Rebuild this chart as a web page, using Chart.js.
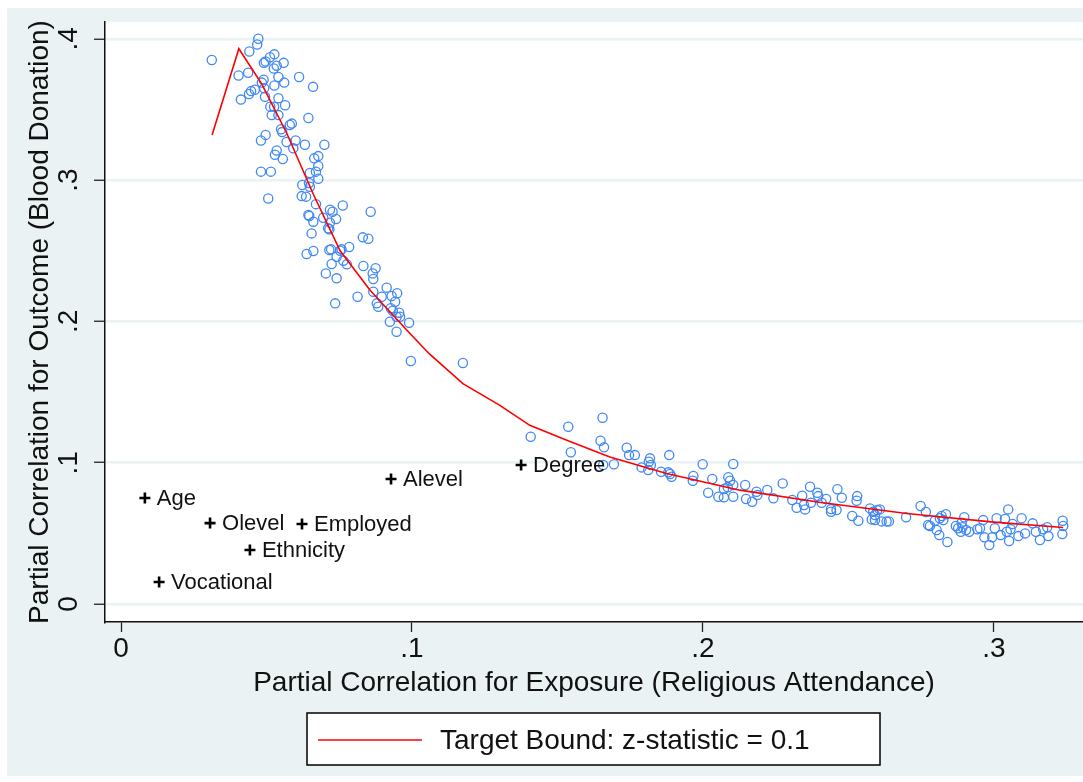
<!DOCTYPE html>
<html>
<head>
<meta charset="utf-8">
<script src="https://cdn.jsdelivr.net/npm/chart.js@4.4.0/dist/chart.umd.min.js"></script>
<style>
  html, body { margin: 0; padding: 0; background: #fff; }
  canvas { display: block; }
</style>
</head>
<body>
<canvas id="chart" width="1083" height="782"></canvas>
<script>
'use strict';
// tick values and their Stata-style labels
const xTicks = [0, 0.1, 0.2, 0.3];
const xTickLabels = ['0', '.1', '.2', '.3'];
const yTicks = [0, 0.1, 0.2, 0.3, 0.4];
const yTickLabels = ['0', '.1', '.2', '.3', '.4'];

// labelled covariates (black crosses)
const covariateNames = ['Age', 'Olevel', 'Employed', 'Ethnicity', 'Vocational', 'Alevel', 'Degree'];
const covariateX = [0.0082, 0.0306, 0.0622, 0.0443, 0.0131, 0.0928, 0.1375];
const covariateY = [0.0750, 0.0573, 0.0566, 0.0382, 0.0156, 0.0885, 0.0984];

// target bound line
const boundX = [0.0313, 0.0405, 0.0484, 0.0570, 0.0661, 0.0753, 0.0856, 0.0993, 0.1060, 0.1175, 0.1302, 0.1405, 0.1532, 0.1680, 0.1875, 0.2127, 0.2400, 0.2700, 0.3000, 0.3238];
const boundY = [0.332, 0.393, 0.368, 0.333, 0.290, 0.250, 0.222, 0.1915, 0.177, 0.156, 0.1406, 0.1265, 0.116, 0.104, 0.0924, 0.0806, 0.072, 0.0641, 0.058, 0.0542];

// simulated points [exposure, outcome]
const steepPoints = [
  [0.0312, 0.385], [0.0472, 0.400], [0.0468, 0.396], [0.0441, 0.391], [0.0512, 0.387], [0.0527, 0.389],
  [0.0491, 0.383], [0.0497, 0.384], [0.0535, 0.381], [0.0559, 0.383], [0.0525, 0.379], [0.0404, 0.374],
  [0.0437, 0.376], [0.0490, 0.371], [0.0484, 0.369], [0.0541, 0.373], [0.0561, 0.369], [0.0612, 0.373],
  [0.0660, 0.366], [0.0527, 0.367], [0.0492, 0.365], [0.0460, 0.364], [0.0447, 0.363], [0.0440, 0.361],
  [0.0412, 0.357], [0.0495, 0.359], [0.0541, 0.358], [0.0513, 0.352], [0.0526, 0.352], [0.0564, 0.353],
  [0.0518, 0.346], [0.0541, 0.346], [0.0644, 0.344], [0.0587, 0.340], [0.0580, 0.339], [0.0550, 0.336],
  [0.0554, 0.334], [0.0497, 0.332], [0.0481, 0.328], [0.0569, 0.327], [0.0600, 0.328], [0.0632, 0.325],
  [0.0699, 0.325], [0.0592, 0.3225]
];
const middlePoints = [
  [0.0529, 0.318], [0.0535, 0.321], [0.0556, 0.315], [0.0481, 0.306], [0.0515, 0.306], [0.0664, 0.3154],
  [0.0678, 0.317], [0.0678, 0.310], [0.0670, 0.306], [0.0649, 0.305], [0.0678, 0.301], [0.0623, 0.2965],
  [0.0646, 0.298], [0.0649, 0.2953], [0.0506, 0.287], [0.0621, 0.2887], [0.0636, 0.2883], [0.0670, 0.283],
  [0.0718, 0.279], [0.0727, 0.2776], [0.0762, 0.282], [0.0858, 0.2776], [0.0644, 0.2753], [0.0647, 0.2746],
  [0.0695, 0.2734], [0.0661, 0.2706], [0.0739, 0.2725], [0.0718, 0.2699], [0.0712, 0.2659], [0.0716, 0.2652],
  [0.0655, 0.2623], [0.0831, 0.2595], [0.0850, 0.2585], [0.0638, 0.2477], [0.0661, 0.2498], [0.0716, 0.2505],
  [0.0722, 0.2510], [0.0753, 0.2500], [0.0758, 0.2510], [0.0784, 0.2527], [0.0741, 0.2458], [0.0764, 0.2430],
  [0.0776, 0.2404], [0.0724, 0.2406], [0.0704, 0.2340], [0.0741, 0.2305], [0.0833, 0.2392], [0.0875, 0.2376],
  [0.0865, 0.2340], [0.0867, 0.2300], [0.0913, 0.2239], [0.0867, 0.2210], [0.0896, 0.2175], [0.0949, 0.2199],
  [0.0930, 0.2180], [0.0942, 0.2139], [0.0813, 0.2175], [0.0736, 0.2128], [0.0879, 0.2128], [0.0884, 0.2104],
  [0.0927, 0.2093], [0.0934, 0.2076], [0.0956, 0.2062], [0.0959, 0.2033], [0.0947, 0.2033], [0.0924, 0.1998],
  [0.0990, 0.1991], [0.0947, 0.1927], [0.0996, 0.1720], [0.1175, 0.1706]
];
const flatPoints = [
  [0.1408, 0.1184], [0.1537, 0.1255], [0.1655, 0.1318], [0.1546, 0.1074], [0.1648, 0.1156], [0.1660, 0.1109],
  [0.1694, 0.0989], [0.1657, 0.0984], [0.1738, 0.1106], [0.1746, 0.1054], [0.1766, 0.1054], [0.1818, 0.1031],
  [0.1814, 0.1007], [0.1821, 0.0984], [0.1812, 0.0948], [0.1789, 0.0967], [0.1884, 0.1054], [0.1856, 0.0936],
  [0.1881, 0.0932], [0.1892, 0.0901], [0.1887, 0.0920], [0.1999, 0.0989], [0.2104, 0.0991], [0.1967, 0.0906],
  [0.1965, 0.0873], [0.2032, 0.0885], [0.2018, 0.0788], [0.2087, 0.0897], [0.2093, 0.0873], [0.2104, 0.0842],
  [0.2085, 0.0826], [0.2072, 0.0814], [0.2145, 0.0842], [0.2053, 0.0759], [0.2072, 0.0755], [0.2104, 0.0759],
  [0.2148, 0.0743]
];
const tailPoints = [
  [0.2169, 0.0724], [0.2184, 0.0795], [0.2187, 0.0771], [0.2221, 0.0807], [0.2242, 0.0748], [0.2274, 0.0854],
  [0.2307, 0.0736], [0.2322, 0.0682], [0.2351, 0.0670], [0.2341, 0.0766], [0.2347, 0.0701], [0.2368, 0.0830],
  [0.2371, 0.0717], [0.2393, 0.0788], [0.2396, 0.0764], [0.2408, 0.0717], [0.2423, 0.0743], [0.2440, 0.0672],
  [0.2440, 0.0653], [0.2459, 0.0665], [0.2462, 0.0812], [0.2477, 0.0752], [0.2513, 0.0623], [0.2534, 0.0590],
  [0.2528, 0.0731], [0.2530, 0.0764], [0.2574, 0.0677], [0.2585, 0.0653], [0.2580, 0.0599], [0.2591, 0.0594],
  [0.2599, 0.0665], [0.2608, 0.0670], [0.2614, 0.0585], [0.2631, 0.0585], [0.2639, 0.0585], [0.2591, 0.0630],
  [0.2698, 0.0614], [0.2748, 0.0694], [0.2766, 0.0651], [0.2774, 0.0559], [0.2780, 0.0552], [0.2803, 0.0524],
  [0.2812, 0.0488], [0.2840, 0.0439], [0.2797, 0.0590], [0.2814, 0.0607], [0.2820, 0.0623], [0.2835, 0.0635],
  [0.2826, 0.0594], [0.2869, 0.0552], [0.2877, 0.0536], [0.2886, 0.0512], [0.2892, 0.0543], [0.2898, 0.0614],
  [0.2904, 0.0524], [0.2915, 0.0512], [0.2889, 0.0575], [0.2943, 0.0529], [0.2952, 0.0536], [0.2967, 0.0472],
  [0.2963, 0.0594], [0.2984, 0.0418], [0.2994, 0.0472], [0.3003, 0.0536], [0.3009, 0.0607], [0.3023, 0.0488],
  [0.3038, 0.0602], [0.3044, 0.0512], [0.3049, 0.0670], [0.3052, 0.0446], [0.3057, 0.0529], [0.3064, 0.0566],
  [0.3084, 0.0481], [0.3095, 0.0607], [0.3107, 0.0500], [0.3133, 0.0571], [0.3144, 0.0512], [0.3158, 0.0453],
  [0.3169, 0.0529], [0.3183, 0.0543], [0.3187, 0.0481], [0.3236, 0.0590], [0.3238, 0.0552], [0.3235, 0.0495]
];

const bgBlue = '#eaf2f3';
const fontFamily = "'Liberation Sans', Arial, Helvetica, sans-serif";
Chart.defaults.font.family = fontFamily;
Chart.defaults.color = '#111';

const allPoints = steepPoints.concat(middlePoints, flatPoints, tailPoints);

const backgroundPlugin = {
  id: 'stataBackground',
  beforeDraw(chart) {
    const ctx = chart.ctx;
    const a = chart.chartArea;
    ctx.save();
    ctx.fillStyle = '#fff';
    ctx.fillRect(0, 0, chart.width, chart.height);
    ctx.fillStyle = bgBlue;
    ctx.fillRect(7, 8, chart.width - 7, chart.height - 14);
    ctx.fillStyle = '#fff';
    ctx.fillRect(a.left, a.top, a.right - a.left, a.bottom - a.top);
    ctx.restore();
  }
};

const labelsPlugin = {
  id: 'stataLabels',
  afterDraw(chart) {
    const ctx = chart.ctx;
    const yScale = chart.scales.y;
    ctx.save();
    // rotated y tick labels
    ctx.fillStyle = '#111';
    ctx.font = '28px ' + fontFamily;
    ctx.textAlign = 'center';
    ctx.textBaseline = 'middle';
    for (let i = 0; i < yTicks.length; i++) {
      const py = yScale.getPixelForValue(yTicks[i]);
      ctx.save();
      ctx.translate(69, py);
      ctx.rotate(-Math.PI / 2);
      ctx.fillText(yTickLabels[i], 0, 0);
      ctx.restore();
    }
    // covariate names next to the crosses
    const meta = chart.getDatasetMeta(0);
    ctx.font = '22px ' + fontFamily;
    ctx.textAlign = 'left';
    for (let i = 0; i < meta.data.length; i++) {
      const el = meta.data[i];
      ctx.fillText(covariateNames[i], el.x + 12, el.y + 1);
    }
    // legend box
    const a = chart.chartArea;
    const cx = (a.left + a.right) / 2;
    const boxLeft = cx - 287;
    ctx.fillStyle = '#fff';
    ctx.fillRect(boxLeft, 713, 573, 52);
    ctx.strokeStyle = '#000';
    ctx.lineWidth = 1.5;
    ctx.strokeRect(boxLeft, 713, 573, 52);
    ctx.strokeStyle = chart.data.datasets[1].borderColor;
    ctx.beginPath();
    ctx.moveTo(boxLeft + 11, 740);
    ctx.lineTo(boxLeft + 115, 740);
    ctx.stroke();
    ctx.fillStyle = '#111';
    ctx.font = '28px ' + fontFamily;
    ctx.fillText(chart.data.datasets[1].label, boxLeft + 133, 741);
    ctx.restore();
  }
};

const ctx = document.getElementById('chart').getContext('2d');
new Chart(ctx, {
  type: 'scatter',
  data: {
    datasets: [
      {
        label: 'Covariates',
        data: covariateX.map((x, i) => ({x: x, y: covariateY[i]})),
        pointStyle: 'cross',
        pointRadius: 5.5,
        borderColor: '#000',
        backgroundColor: '#000',
        borderWidth: 2.6
      },
      {
        label: 'Target Bound: z-statistic = 0.1',
        data: boundX.map((x, i) => ({x: x, y: boundY[i]})),
        showLine: true,
        borderColor: '#ff0000',
        backgroundColor: '#ff0000',
        borderWidth: 1.6,
        pointRadius: 0,
        tension: 0
      },
      {
        label: 'Simulated',
        data: allPoints.map(p => ({x: p[0], y: p[1]})),
        pointStyle: 'circle',
        pointRadius: 4.6,
        borderWidth: 1.3,
        borderColor: '#3f88f5',
        backgroundColor: 'rgba(0,0,0,0)'
      }
    ]
  },
  options: {
    responsive: false,
    animation: false,
    devicePixelRatio: 1,
    layout: { autoPadding: false, padding: { top: 22, right: 0, bottom: 0, left: 0 } },
    plugins: {
      legend: { display: false },
      tooltip: { enabled: false }
    },
    scales: {
      x: {
        type: 'linear',
        min: -0.0055,
        max: 0.3306,
        afterBuildTicks: s => { s.ticks = xTicks.map(v => ({value: v})); },
        afterFit: s => { s.height = 160; },
        ticks: {
          font: { size: 28 },
          color: '#111',
          padding: 0,
          maxRotation: 0,
          callback: (v, i) => xTickLabels[i]
        },
        grid: {
          drawOnChartArea: false,
          drawTicks: true,
          tickLength: 10,
          tickColor: '#222',
          tickWidth: 1.3
        },
        border: { display: true, color: '#111', width: 1.5 },
        title: {
          display: true,
          text: 'Partial Correlation for Exposure (Religious Attendance)',
          font: { size: 28 },
          color: '#111',
          padding: { top: 0, bottom: 82 }
        }
      },
      y: {
        type: 'linear',
        min: -0.0127,
        max: 0.4119,
        afterBuildTicks: s => { s.ticks = yTicks.map(v => ({value: v})); },
        afterFit: s => { s.width = 105; },
        ticks: { display: false },
        grid: {
          color: bgBlue,
          lineWidth: 2.5,
          drawTicks: true,
          tickLength: 11,
          tickColor: '#222',
          tickWidth: 1.3
        },
        border: { display: true, color: '#111', width: 1.5 },
        title: {
          display: true,
          text: 'Partial Correlation for Outcome (Blood Donation)',
          font: { size: 28 },
          color: '#111',
          padding: { top: 23, bottom: 0 }
        }
      }
    }
  },
  plugins: [backgroundPlugin, labelsPlugin]
});
</script>
</body>
</html>
